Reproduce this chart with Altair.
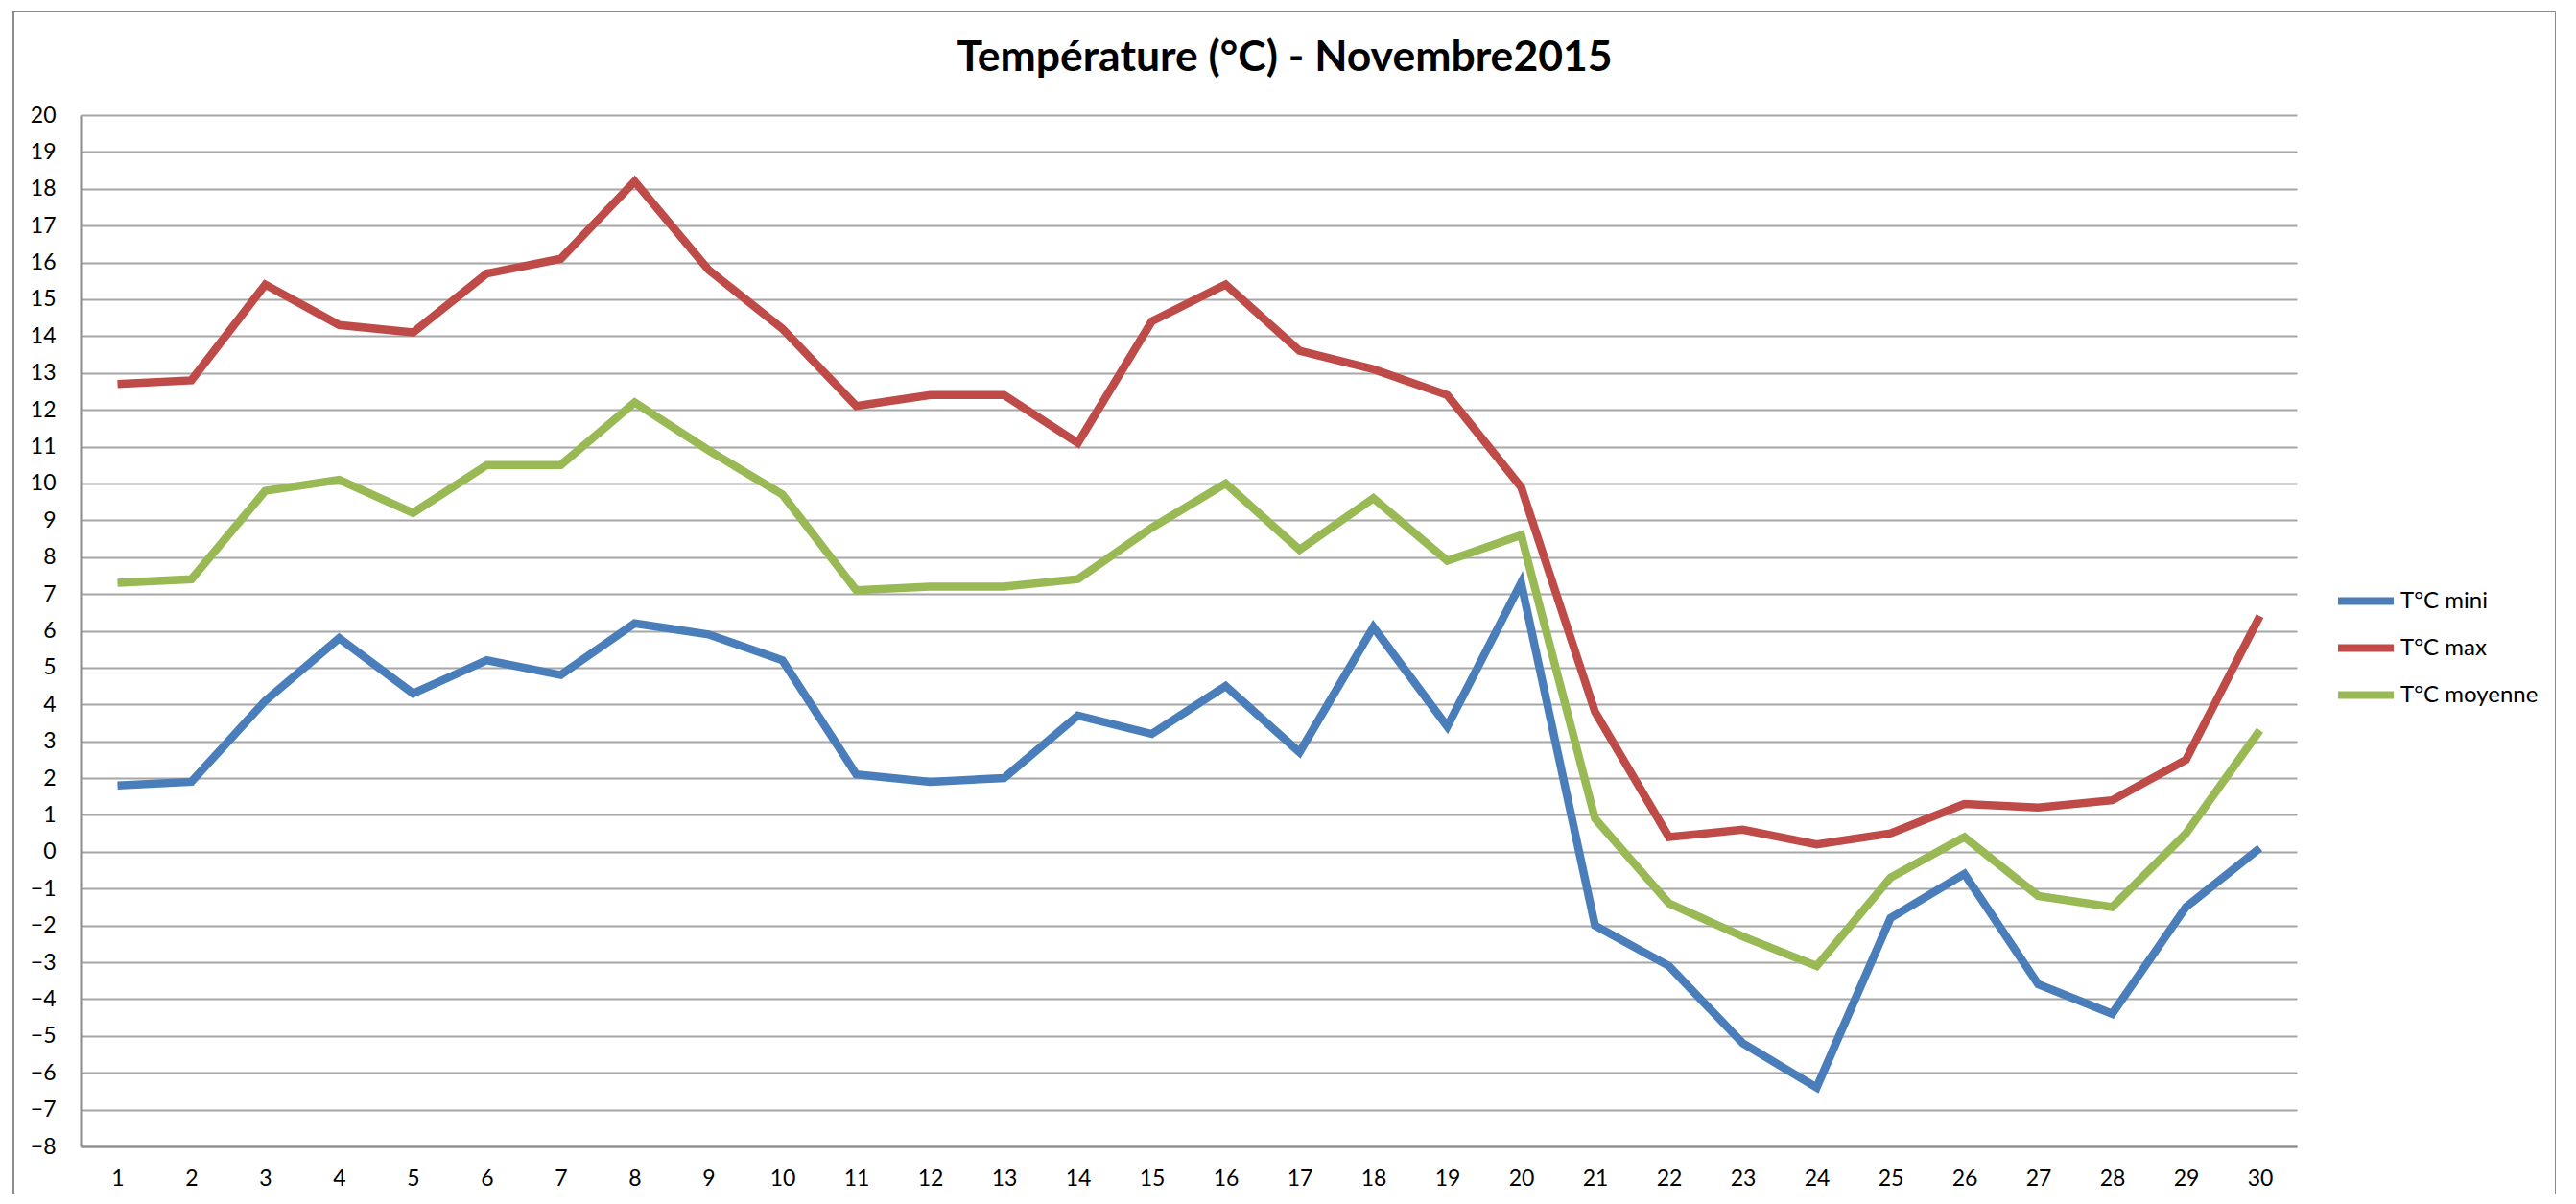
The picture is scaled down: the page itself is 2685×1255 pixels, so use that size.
import altair as alt
import pandas as pd

days = list(range(1, 31))
t_mini = [1.8, 1.9, 4.1, 5.8, 4.3, 5.2, 4.8, 6.2, 5.9, 5.2,
          2.1, 1.9, 2.0, 3.7, 3.2, 4.5, 2.7, 6.1, 3.4, 7.3,
          -2.0, -3.1, -5.2, -6.4, -1.8, -0.6, -3.6, -4.4, -1.5, 0.1]
t_max = [12.7, 12.8, 15.4, 14.3, 14.1, 15.7, 16.1, 18.2, 15.8, 14.2,
         12.1, 12.4, 12.4, 11.1, 14.4, 15.4, 13.6, 13.1, 12.4, 9.9,
         3.8, 0.4, 0.6, 0.2, 0.5, 1.3, 1.2, 1.4, 2.5, 6.4]
t_moy = [7.3, 7.4, 9.8, 10.1, 9.2, 10.5, 10.5, 12.2, 10.9, 9.7,
         7.1, 7.2, 7.2, 7.4, 8.8, 10.0, 8.2, 9.6, 7.9, 8.6,
         0.9, -1.4, -2.3, -3.1, -0.7, 0.4, -1.2, -1.5, 0.5, 3.3]
series_names = ["T°C mini", "T°C max", "T°C moyenne"]
series_colors = ["#4A7EBB", "#BE4B48", "#98B954"]
y_ticks = list(range(-8, 21))
title_text = "Température (°C) - Novembre2015"

rows = []
for name, vals in zip(series_names, [t_mini, t_max, t_moy]):
    for d, v in zip(days, vals):
        rows.append({"jour": d, "serie": name, "temp": v, "ordre": series_names.index(name)})
df = pd.DataFrame(rows)

FONT = "Lato"

lines = alt.Chart(df).mark_line(strokeWidth=8.5, strokeJoin="miter", strokeCap="butt").encode(
    x=alt.X("jour:O", title=None,
            scale=alt.Scale(type="point", padding=0.5),
            axis=alt.Axis(labelAngle=0, ticks=False, labelPadding=22, labelFontSize=23,
                          labelFont=FONT, labelColor="#000000", domainColor="#8C8C8C",
                          domainWidth=2, grid=False)),
    y=alt.Y("temp:Q", title=None,
            scale=alt.Scale(domain=[-8, 20], nice=False, zero=False),
            axis=alt.Axis(values=y_ticks, ticks=False, labelPadding=26, labelFontSize=23,
                          labelFont=FONT, labelColor="#000000", domainColor="#8C8C8C",
                          domainWidth=2, grid=True, gridColor="#A6A6A6", gridWidth=2)),
    color=alt.Color("serie:N",
                    scale=alt.Scale(domain=series_names, range=series_colors),
                    legend=alt.Legend(title=None, orient="none", legendX=2349, legendY=482,
                                      symbolType="stroke", symbolSize=3364, symbolStrokeWidth=8,
                                      labelFontSize=24, labelFont=FONT, labelColor="#000000",
                                      labelOffset=3, clipHeight=49, rowPadding=0)),
    order=alt.Order("ordre:Q"),
    detail="serie:N",
)

title = alt.Chart(pd.DataFrame({"t": [title_text]})).mark_text(
    font=FONT, fontSize=44.5, fontWeight="bold", color="#000000",
    align="center", baseline="alphabetic"
).encode(
    text="t:N", x=alt.value(1255), y=alt.value(-46)
)

frame = alt.Chart(pd.DataFrame({"k": [0]})).mark_rect(
    fill=None, stroke="#8C8C8C", strokeWidth=2
).encode(
    x=alt.value(-70), x2=alt.value(2580), y=alt.value(-108), y2=alt.value(1140)
)

chart = alt.layer(frame, title, lines).properties(
    width=2310, height=1075,
    padding={"left": 76, "top": 112, "right": 270, "bottom": 50},
    autosize=alt.AutoSizeParams(type="none"),
).configure_view(stroke=None)

chart.save("out.html", embed_options={"renderer": "svg", "actions": False})
